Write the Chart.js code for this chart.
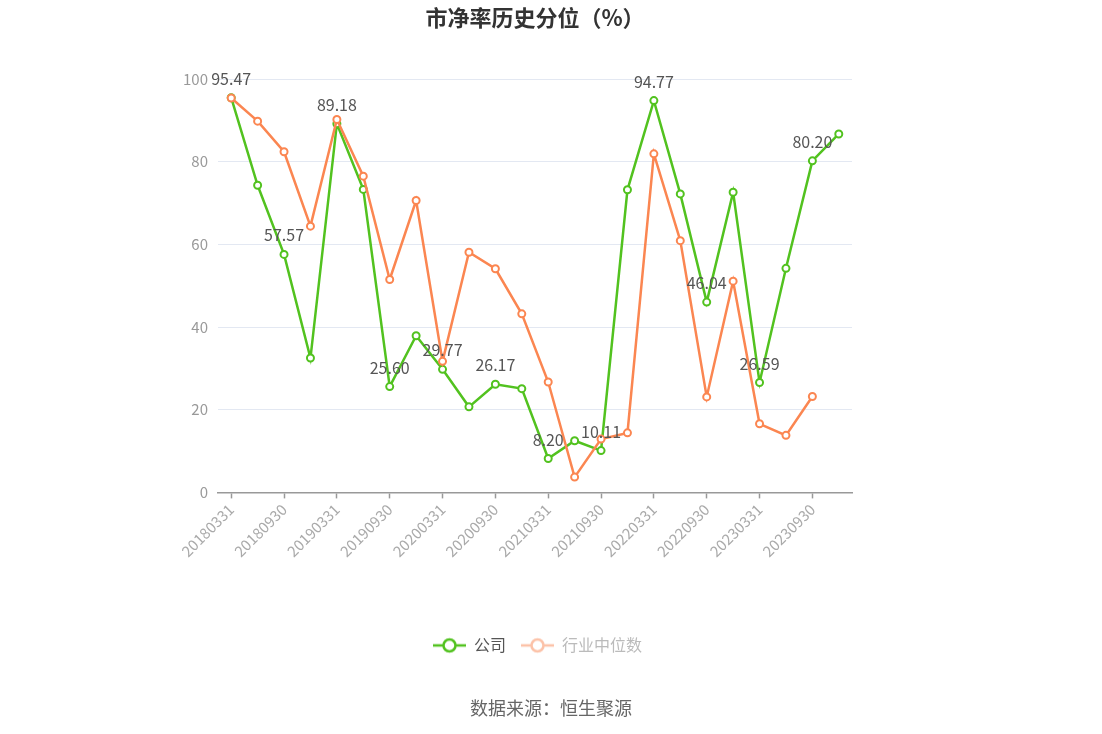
<!DOCTYPE html>
<html>
<head>
<meta charset="utf-8">
<script src="https://cdn.jsdelivr.net/npm/chart.js@4"></script>
<style>
html,body{margin:0;padding:0;background:#fff;}
#wrap{width:1102px;height:734px;position:relative;}
</style>
</head>
<body>
<div id="wrap"><canvas id="c" width="1102" height="734"></canvas></div>
<script>
const categories = ['20180331','20180630','20180930','20181231','20190331','20190630','20190930','20191231','20200331','20200630','20200930','20201231','20210331','20210630','20210930','20211231','20220331','20220630','20220930','20221231','20230331','20230630','20230930','20231231'];
const companyValues = [95.47,74.3,57.57,32.5,89.18,73.3,25.60,37.9,29.77,20.7,26.17,25.1,8.20,12.5,10.11,73.2,94.77,72.2,46.04,72.6,26.59,54.2,80.20,86.7];
const industryValues = [95.4,89.8,82.4,64.4,90.2,76.5,51.5,70.6,31.7,58.1,54.1,43.2,26.7,3.7,12.9,14.4,81.9,60.9,23.1,51.1,16.6,13.8,23.2,null];
const yTicks = [0,20,40,60,80,100];
const seriesNames = ['公司','行业中位数'];

const FONT = "'Noto Sans CJK SC','Noto Sans',sans-serif";
const GREEN = '#52c21f';
const ORANGE = '#fb8651';

function legendIcon(color){
  const c = document.createElement('canvas');
  c.width = 38; c.height = 18;
  const g = c.getContext('2d');
  g.strokeStyle = color; g.lineWidth = 2.5;
  g.beginPath(); g.moveTo(5,9); g.lineTo(38,9); g.stroke();
  g.beginPath(); g.arc(21.5,9,6,0,Math.PI*2);
  g.fillStyle = '#fff'; g.fill(); g.stroke();
  return c;
}
const icons = [legendIcon(GREEN), legendIcon('#fcc2a8')];
const legendTextColors = ['#555', '#bbb'];

const valueLabels = {
  id: 'valueLabels',
  afterDatasetsDraw(chart){
    const ctx = chart.ctx;
    const meta = chart.getDatasetMeta(0);
    ctx.save();
    ctx.font = '16px ' + FONT;
    ctx.fillStyle = '#555';
    ctx.textAlign = 'center';
    ctx.textBaseline = 'bottom';
    meta.data.forEach((pt, i) => {
      if (i % 2 !== 0) return;
      const v = companyValues[i];
      ctx.fillText(v.toFixed(2), pt.x, pt.y - 11);
    });
    ctx.restore();
  }
};

new Chart(document.getElementById('c'), {
  type: 'line',
  data: {
    labels: categories,
    datasets: [
      {label: seriesNames[0], data: companyValues, borderColor: GREEN, backgroundColor: '#fff',
       borderWidth: 2.5, pointRadius: 3.5, pointBorderWidth: 2, pointBackgroundColor: '#fff',
       pointBorderColor: GREEN, tension: 0, order: 1},
      {label: seriesNames[1], data: industryValues, borderColor: ORANGE, backgroundColor: '#fff',
       borderWidth: 2.5, pointRadius: 3.5, pointBorderWidth: 2, pointBackgroundColor: '#fff',
       pointBorderColor: ORANGE, tension: 0, order: 0, spanGaps: false}
    ]
  },
  options: {
    responsive: false,
    animation: false,
    layout: {padding: 0},
    scales: {
      x: {
        offset: true,
        grid: {display: true, drawOnChartArea: false, tickLength: 6,
               tickColor: (c) => (c.index % 2 === 0 ? '#999' : 'rgba(0,0,0,0)'), tickWidth: 1.5},
        border: {display: true, color: '#999', width: 1.5},
        ticks: {autoSkip: false, minRotation: 45, maxRotation: 45, color: '#aaa', padding: 2,
                font: {size: 15, family: FONT},
                callback: function(v, i){ return i % 2 === 0 ? categories[i] : ''; }},
        afterFit(s){ s.height = 135; }
      },
      y: {
        min: 0, max: 100,
        afterBuildTicks(s){ s.ticks = yTicks.map(v => ({value: v})); },
        grid: {color: '#e3e8f2', lineWidth: 1, drawTicks: false},
        border: {display: false},
        ticks: {color: '#999', padding: 10, font: {size: 15, family: FONT}},
        afterFit(s){ s.width = 218; }
      },
      yR: {
        position: 'right', display: true,
        grid: {display: false}, border: {display: false},
        ticks: {display: false},
        afterFit(s){ s.width = 250; }
      }
    },
    plugins: {
      title: {display: true, text: '市净率历史分位（%）', fullSize: false, color: '#333',
              font: {size: 22, weight: 'bold', family: FONT}, padding: {top: 4, bottom: 48.6}},
      subtitle: {display: true, position: 'bottom', text: '数据来源：恒生聚源', fullSize: true, color: '#666',
                 font: {size: 18, family: FONT}, padding: {top: 34, bottom: 15}},
      legend: {display: true, position: 'bottom', fullSize: false,
               labels: {usePointStyle: true, pointStyleWidth: 38, padding: 10,
                        font: {size: 16, family: FONT},
                        generateLabels(chart){
                          return chart.data.datasets.map((d, i) => ({
                            text: d.label, pointStyle: icons[i], fontColor: legendTextColors[i],
                            strokeStyle: 'transparent', fillStyle: 'transparent', lineWidth: 0,
                            hidden: false, datasetIndex: i
                          }));
                        }}},
      tooltip: {enabled: false}
    }
  },
  plugins: [valueLabels]
});
</script>
</body>
</html>
